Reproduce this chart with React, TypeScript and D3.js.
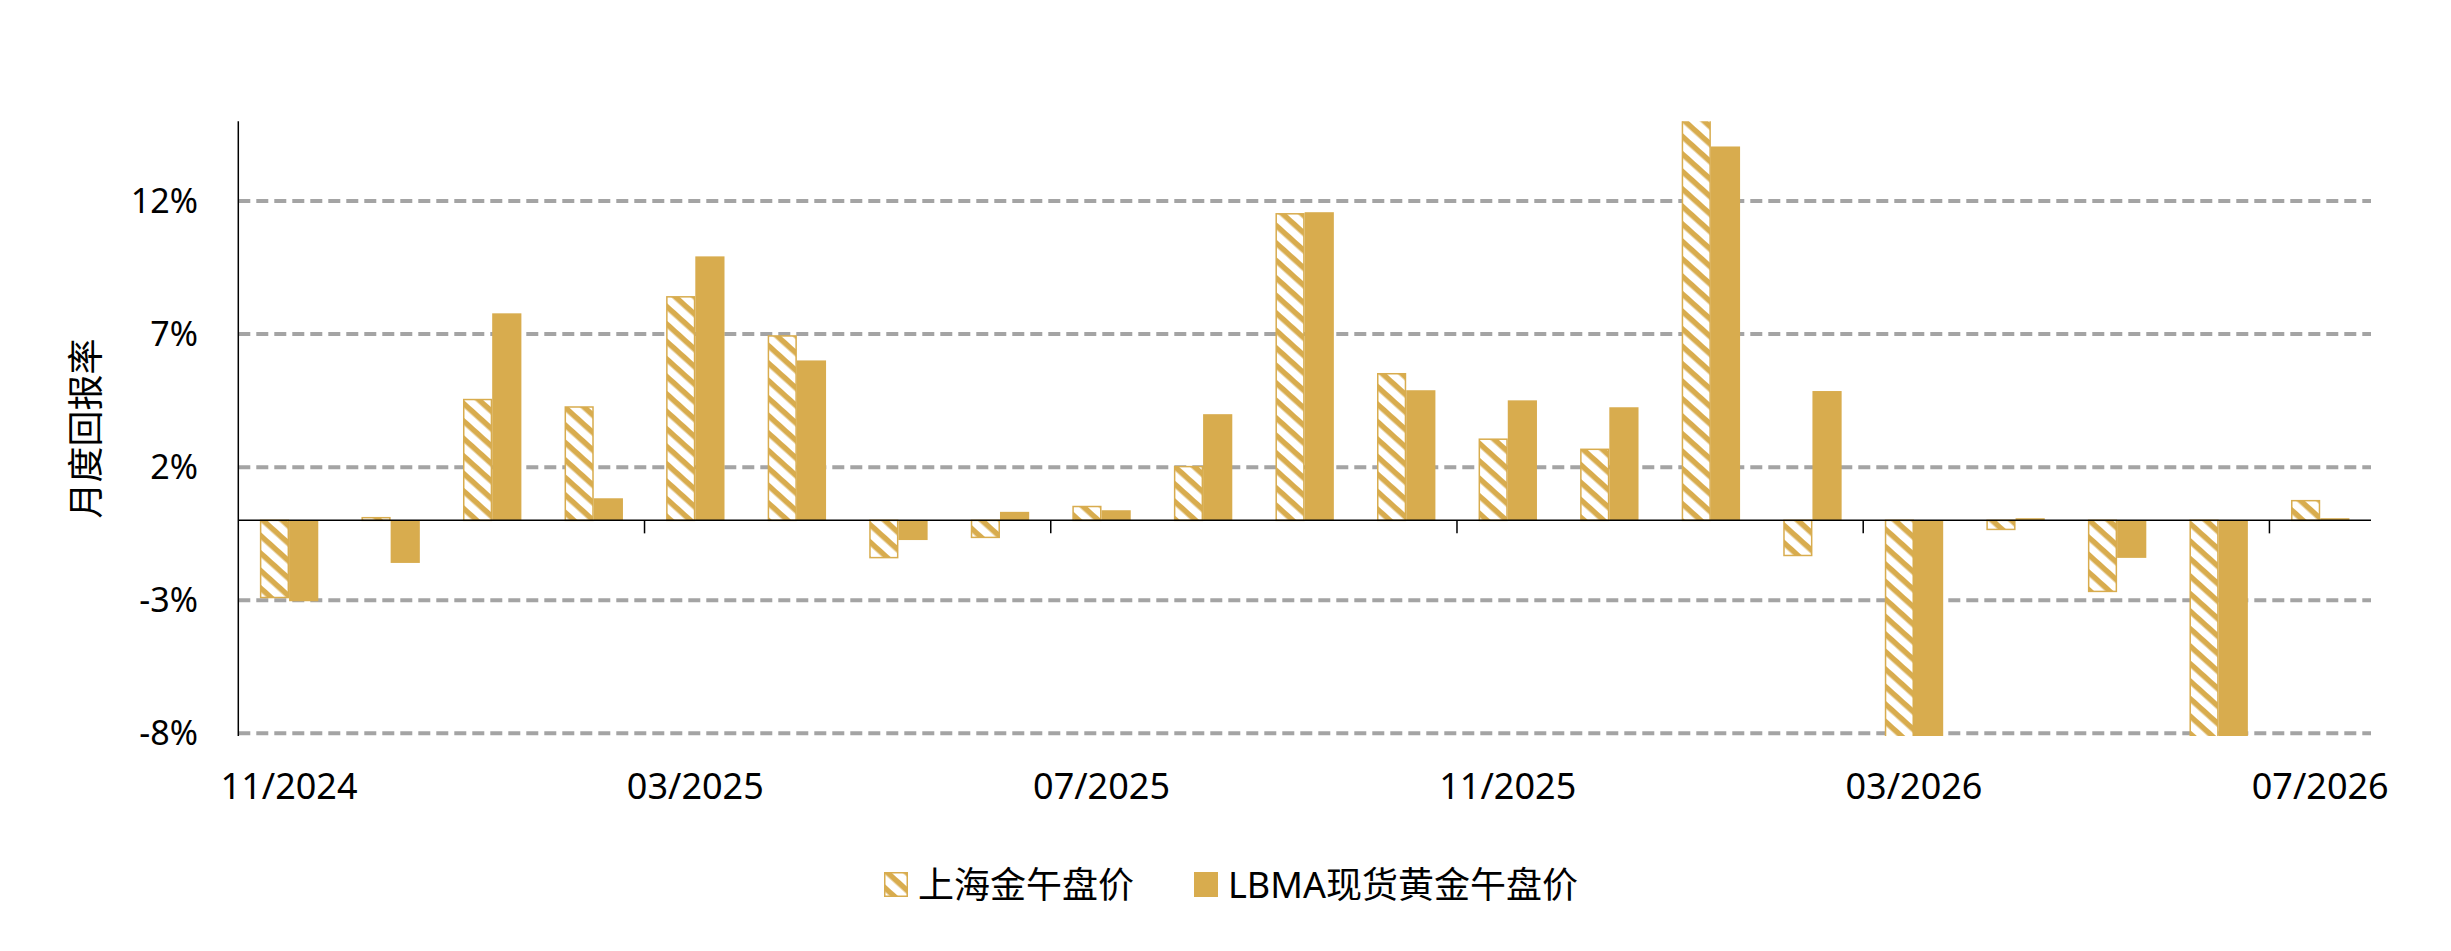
import React from "react";
import * as d3 from "d3";

const months = [
  "11/2024", "12/2024", "01/2025", "02/2025", "03/2025", "04/2025", "05/2025",
  "06/2025", "07/2025", "08/2025", "09/2025", "10/2025", "11/2025", "12/2025",
  "01/2026", "02/2026", "03/2026", "04/2026", "05/2026", "06/2026", "07/2026",
];
const shanghai = [
  -2.9, 0.1, 4.54, 4.26, 8.4, 6.93, -1.4, -0.64, 0.52, 2.02, 11.52, 5.51, 3.05,
  2.67, 15.6, -1.32, -9.0, -0.34, -2.67, -9.0, 0.74,
];
const lbma = [
  -3.04, -1.6, 7.78, 0.83, 9.92, 6.01, -0.74, 0.32, 0.38, 3.99, 11.58, 4.89,
  4.51, 4.25, 14.05, 4.86, -9.0, 0.08, -1.41, -9.0, 0.08,
];
const yTicks = [-8, -3, 2, 7, 12];
const xLabelMonths = ["11/2024", "03/2025", "07/2025", "11/2025", "03/2026", "07/2026"];
const seriesNames = ["上海金午盘价", "LBMA现货黄金午盘价"];

const W = 2451;
const H = 951;
const GOLD = "#D8AC4E";
const GRID = "#A4A4A4";
const FONT = "'Noto Sans', 'Noto Sans CJK SC', sans-serif";

export default function App() {
  const left = 238.3;
  const right = 2371;
  const top = 121.2;
  const bottom = 735.9;

  const x = d3.scaleBand<string>().domain(months).range([left, right]).padding(0);
  const y = d3.scaleLinear().domain([-8.1, 15]).range([bottom, top]);
  const step = x.step();
  const barW = step * 0.2875;
  const y0 = y(0);

  const barRect = (v: number) => {
    const yv = y(v);
    return { y: Math.min(yv, y0), h: Math.abs(yv - y0) };
  };

  const tickIdx = xLabelMonths.map((m) => months.indexOf(m)).filter((i) => i > 0);

  return (
    <svg
      width={W}
      height={H}
      style={{ position: "absolute", left: 0, top: 0, background: "#fff" }}
      fontFamily={FONT}
    >
      <defs>
        <pattern
          id="hatch"
          patternUnits="userSpaceOnUse"
          width={13}
          height={13}
          patternTransform="rotate(42)"
        >
          <rect x={0} y={0} width={13} height={13} fill="#fff" />
          <rect x={0} y={0} width={13} height={5.5} fill={GOLD} />
        </pattern>
        <clipPath id="plotClip">
          <rect x={left} y={top} width={right - left} height={bottom - top} />
        </clipPath>
      </defs>
      <rect x={0} y={0} width={W} height={H} fill="#fff" />

      {/* gridlines */}
      {yTicks.map((t) => (
        <line
          key={"g" + t}
          x1={left}
          x2={right}
          y1={y(t)}
          y2={y(t)}
          stroke={GRID}
          strokeWidth={4}
          strokeDasharray="12 6"
        />
      ))}

      {/* bars */}
      <g clipPath="url(#plotClip)">
        {months.map((m, i) => {
          const cx = (x(m) as number) + step / 2;
          const a = barRect(shanghai[i]);
          const b = barRect(lbma[i]);
          return (
            <g key={m}>
              <rect
                x={cx - barW + 0.75}
                y={a.y}
                width={barW - 1.5}
                height={Math.max(a.h, 0.5)}
                fill="url(#hatch)"
                stroke={GOLD}
                strokeWidth={1.5}
              />
              <rect x={cx} y={b.y} width={barW} height={b.h} fill={GOLD} />
            </g>
          );
        })}
      </g>

      {/* axes */}
      <line x1={left} x2={left} y1={top} y2={bottom} stroke="#000" strokeWidth={1.5} />
      <line x1={left} x2={right} y1={y0} y2={y0} stroke="#000" strokeWidth={1.5} />
      {tickIdx.map((i) => (
        <line
          key={"t" + i}
          x1={left + i * step}
          x2={left + i * step}
          y1={y0}
          y2={y0 + 13}
          stroke="#000"
          strokeWidth={1.5}
        />
      ))}

      {/* y labels */}
      {yTicks.map((t) => (
        <text
          key={"yl" + t}
          x={198}
          y={y(t)}
          dy="0.36em"
          textAnchor="end"
          fontSize={34}
          fill="#000"
        >
          {t}%
        </text>
      ))}

      {/* x labels */}
      {xLabelMonths.map((m) => (
        <text
          key={"xl" + m}
          x={(x(m) as number) + step / 2}
          y={799}
          textAnchor="middle"
          fontSize={36}
          fill="#000"
        >
          {m}
        </text>
      ))}

      {/* y title */}
      <text
        transform={`translate(86, ${(top + bottom) / 2}) rotate(-90)`}
        textAnchor="middle"
        dy="0.36em"
        fontSize={36}
        fill="#000"
      >
        月度回报率
      </text>

      {/* legend */}
      <g>
        <rect x={884.75} y={872.75} width={22.5} height={23.5} fill="url(#hatch)" stroke={GOLD} strokeWidth={1.5} />
        <text x={918} y={885} dy="0.36em" fontSize={36} fill="#000">
          {seriesNames[0]}
        </text>
        <rect x={1194} y={872} width={24} height={25} fill={GOLD} />
        <text x={1228} y={885} dy="0.36em" fontSize={36} fill="#000">
          {seriesNames[1]}
        </text>
      </g>
    </svg>
  );
}
